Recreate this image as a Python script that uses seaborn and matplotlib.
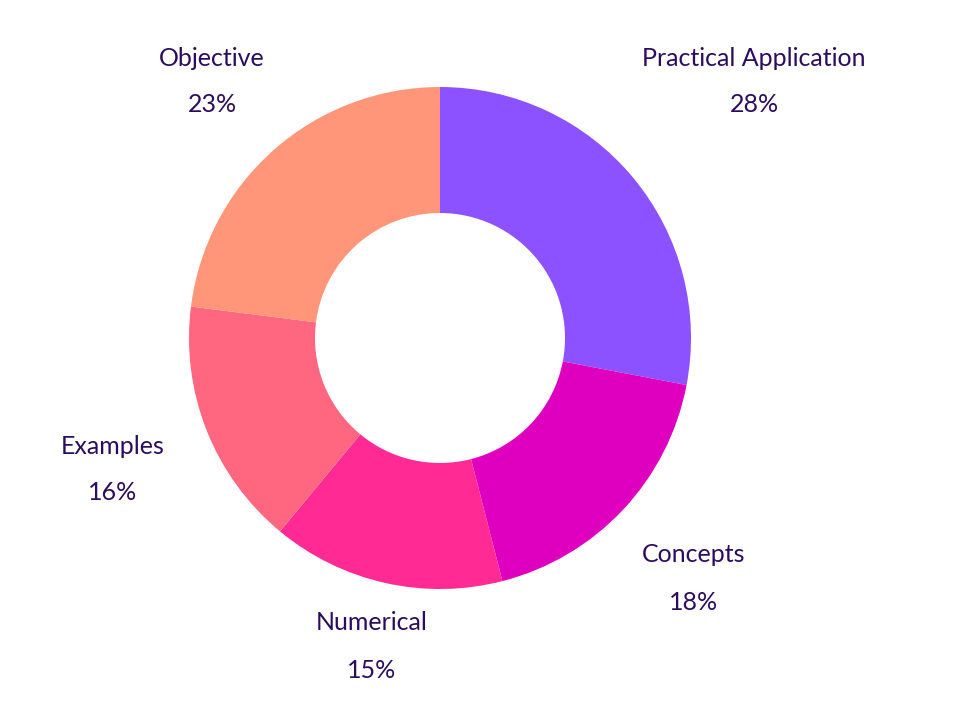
import matplotlib
matplotlib.use('Agg')
import matplotlib.pyplot as plt
import seaborn as sns

categories = ['Practical Application', 'Concepts', 'Numerical', 'Examples', 'Objective']
shares = [28, 18, 15, 16, 23]
colors = ['#8C52FF', '#DE00BE', '#FF2A93', '#FF6680', '#FF967A']

sns.set_theme(style='white')
plt.rcParams['font.family'] = ['Lato', 'DejaVu Sans']
TXT = '#2B0C5E'

fig = plt.figure(figsize=(9.6, 7.21), dpi=100)
ax = fig.add_axes([0, 0, 1, 1])
ax.set_xlim(0, 960)
ax.set_ylim(0, 721)
ax.set_aspect('equal')
ax.axis('off')

ax.pie(shares, colors=colors, startangle=90, counterclock=False,
       center=(440, 383), radius=251, frame=True,
       wedgeprops=dict(width=126, linewidth=0))
ax.set_xlim(0, 960)
ax.set_ylim(0, 721)
ax.axis('off')

# label anchor positions (pixels from top-left)
label_pos = [(754, 58), (694, 555), (372, 623), (113, 446), (212, 58)]
for cat, val, (x, y) in zip(categories, shares, label_pos):
    ax.text(x, 721 - y, cat, ha='center', va='center', fontsize=18, color=TXT)
    ax.text(x, 721 - y - 47, f'{val}%', ha='center', va='center', fontsize=18, color=TXT)

plt.savefig('out.png', dpi=100)
